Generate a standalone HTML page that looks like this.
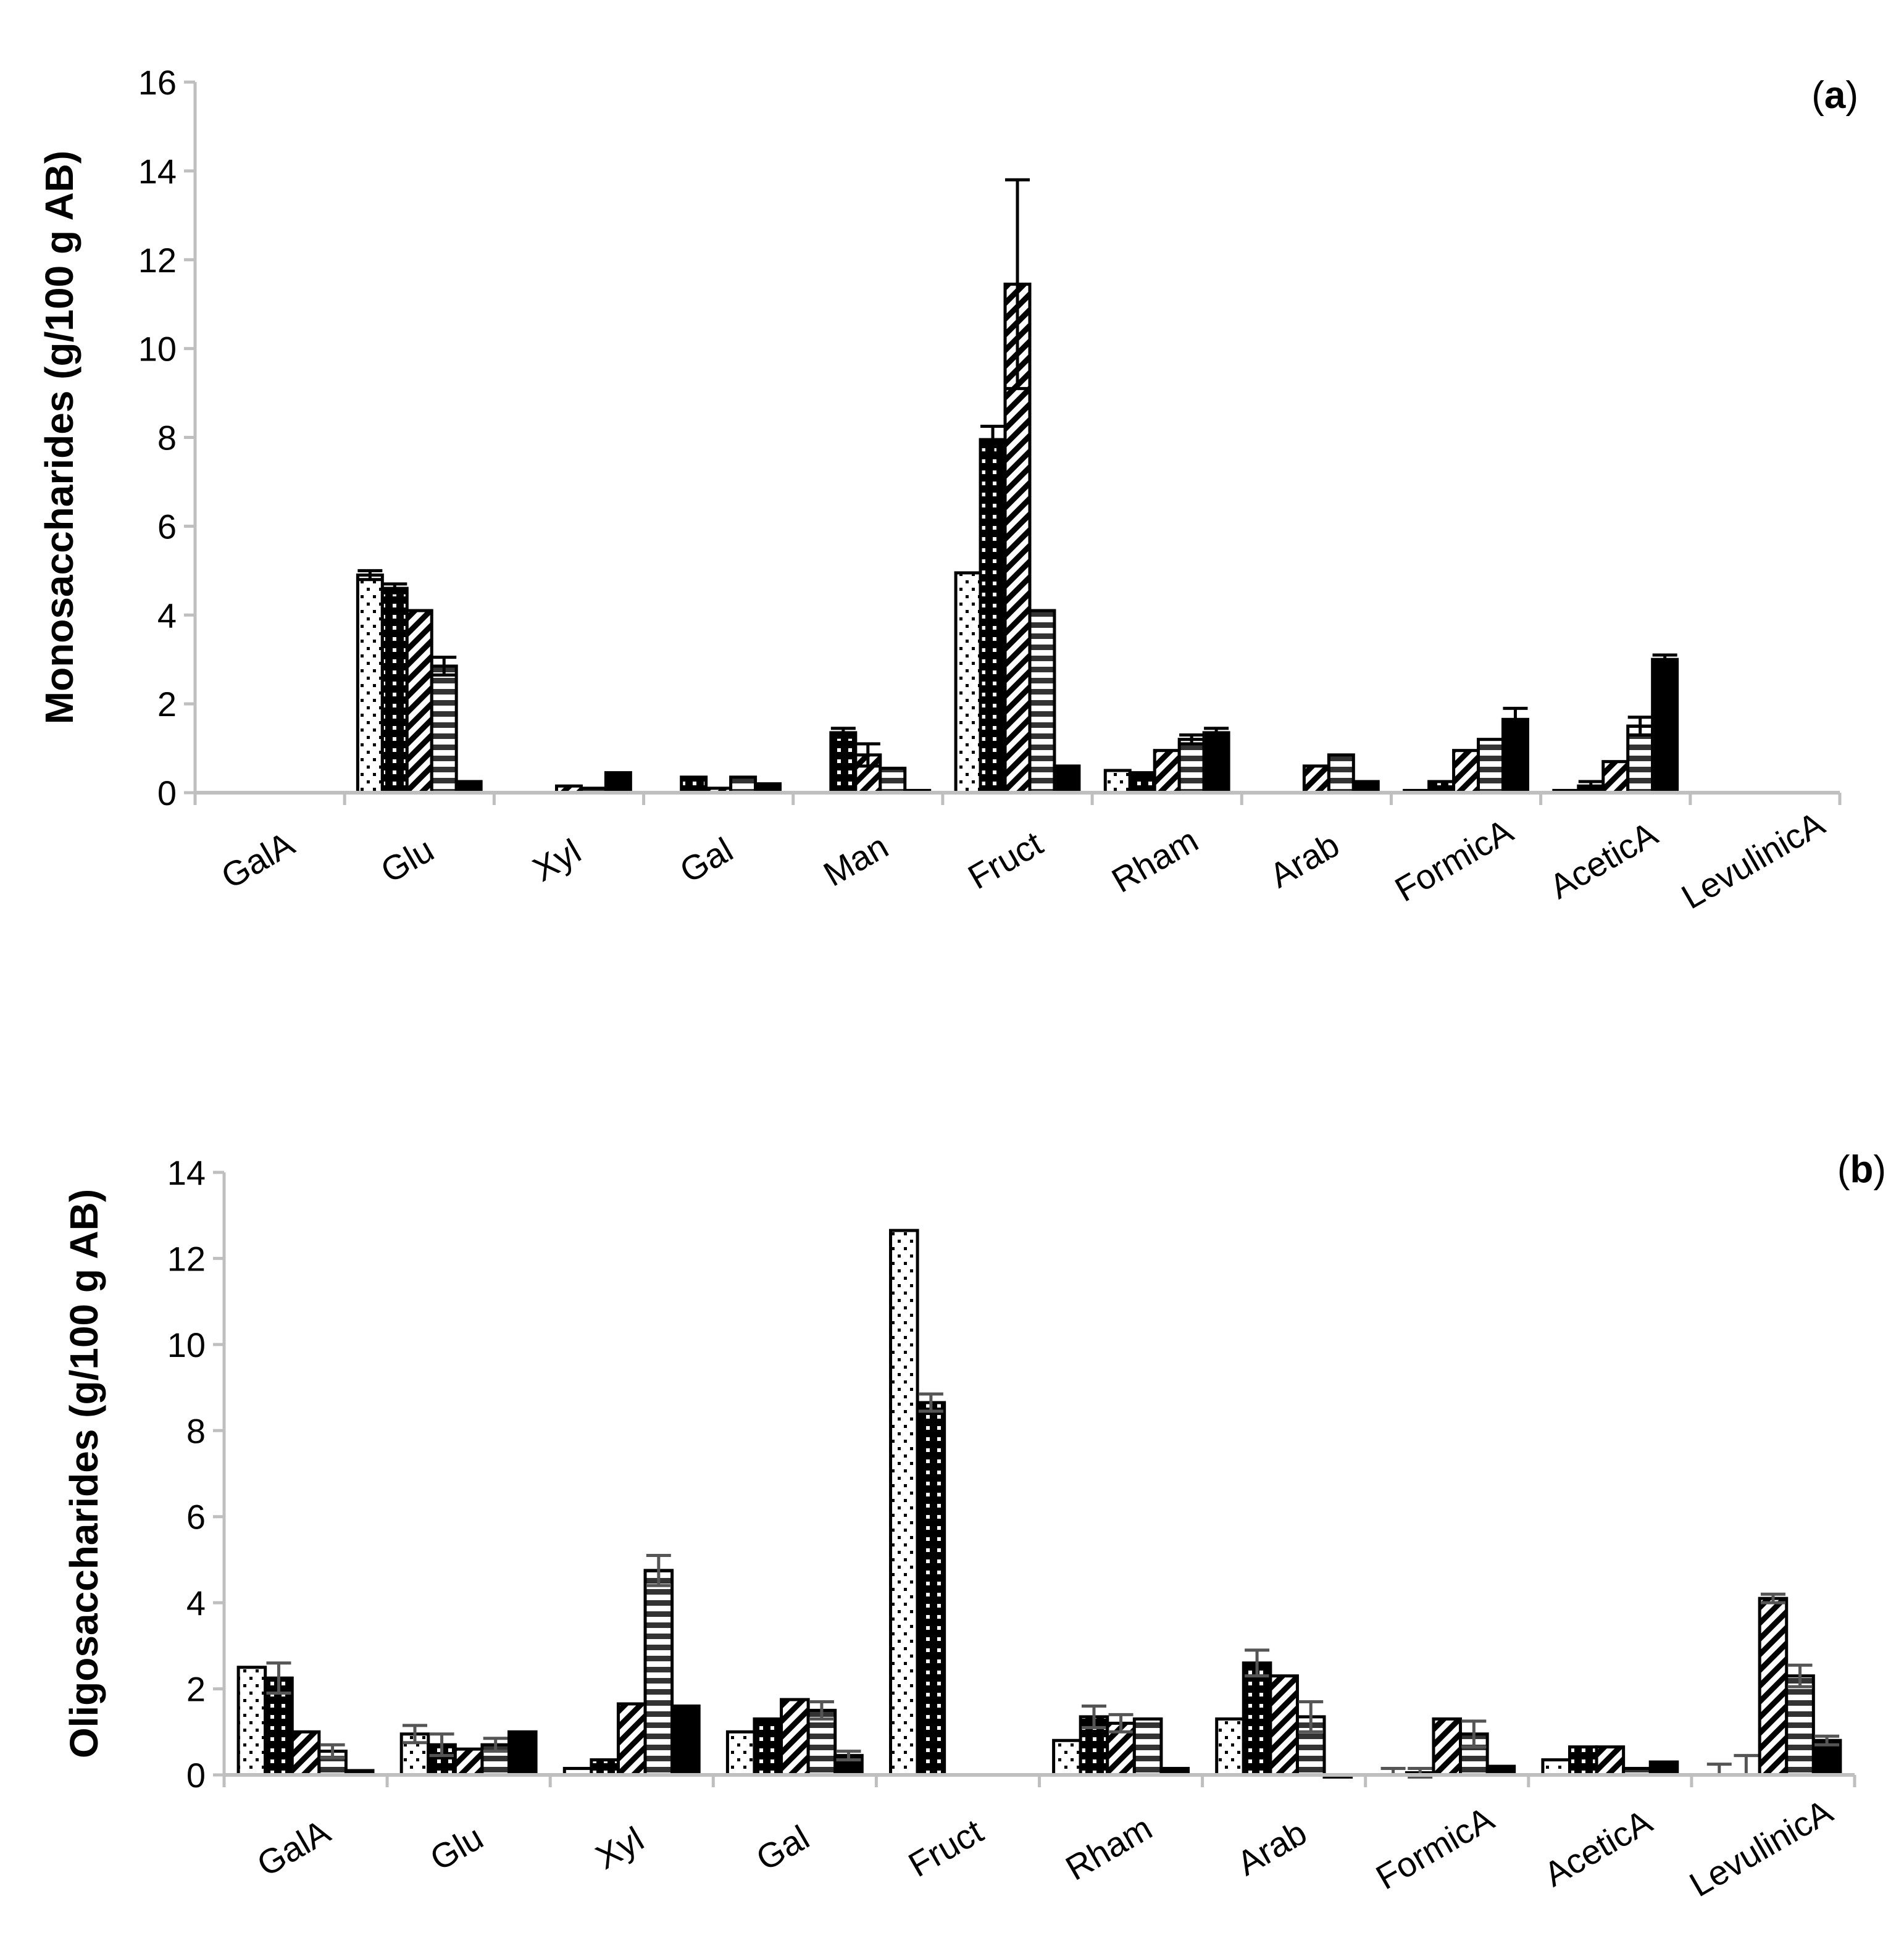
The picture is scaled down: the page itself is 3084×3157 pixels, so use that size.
<!DOCTYPE html>
<html><head><meta charset="utf-8"><style>
html,body{margin:0;padding:0;background:#fff}
svg{display:block}
text{font-family:"Liberation Sans","DejaVu Sans",sans-serif}
</style></head><body>
<svg id="chart" width="3084" height="3157" viewBox="0 0 3084 3157" xmlns="http://www.w3.org/2000/svg">
<defs>
<pattern id="p0" patternUnits="userSpaceOnUse" width="20" height="24"><rect width="20" height="24" fill="#fff"/><rect x="4" y="4" width="5" height="5" fill="#000"/><rect x="14" y="16" width="5" height="5" fill="#000"/></pattern>
<pattern id="p1" patternUnits="userSpaceOnUse" width="18" height="18"><rect width="18" height="18" fill="#000"/><rect x="6" y="6" width="6" height="6" fill="#fff"/></pattern>
<pattern id="p2" patternUnits="userSpaceOnUse" width="18" height="18" patternTransform="rotate(45)"><rect width="18" height="18" fill="#fff"/><rect width="9" height="18" fill="#000"/></pattern>
<pattern id="p3" patternUnits="userSpaceOnUse" width="10" height="18"><rect width="10" height="18" fill="#fff"/><rect width="10" height="9" fill="#333"/></pattern>
<pattern id="p4" patternUnits="userSpaceOnUse" width="10" height="10"><rect width="10" height="10" fill="#000"/></pattern>
</defs>
<g id="panelA"></g>
<g id="panelB"></g>
</svg>
<script>
const catsA = ["GalA","Glu","Xyl","Gal","Man","Fruct","Rham","Arab","FormicA","AceticA","LevulinicA"];
const a_s1 = [0,4.9,0,0,0,4.95,0.5,0,0.05,0.05,0];
const a_s2 = [0,4.6,0,0.35,1.35,7.95,0.45,0,0.25,0.15,0];
const a_s3 = [0,4.1,0.15,0.1,0.85,11.45,0.95,0.6,0.95,0.7,0];
const a_s4 = [0,2.85,0.1,0.35,0.55,4.1,1.2,0.85,1.2,1.5,0];
const a_s5 = [0,0.25,0.45,0.2,0.05,0.6,1.35,0.25,1.65,3.0,0];
const a_e1 = [0,0.1,0,0,0,0,0,0,0,0,0];
const a_e2 = [0,0.1,0,0,0.1,0.3,0,0,0,0.1,0];
const a_e3 = [0,0,0,0,0.25,2.35,0,0,0,0,0];
const a_e4 = [0,0.2,0,0,0,0,0.1,0,0,0.2,0];
const a_e5 = [0,0,0,0,0,0,0.1,0,0.25,0.1,0];
const ticksA = [0,2,4,6,8,10,12,14,16];

const catsB = ["GalA","Glu","Xyl","Gal","Fruct","Rham","Arab","FormicA","AceticA","LevulinicA"];
const b_s1 = [2.5,0.95,0.15,1.0,12.65,0.8,1.3,0,0.35,0];
const b_s2 = [2.25,0.7,0.35,1.3,8.65,1.35,2.6,0.05,0.65,0];
const b_s3 = [1.0,0.6,1.65,1.75,0,1.2,2.3,1.3,0.65,4.1];
const b_s4 = [0.55,0.7,4.75,1.5,0,1.3,1.35,0.95,0.15,2.3];
const b_s5 = [0.1,1.0,1.6,0.45,0,0.15,-0.05,0.2,0.3,0.8];
const b_e1 = [0,0.2,0,0,0,0,0,0.15,0,0.25];
const b_e2 = [0.35,0.25,0,0,0.2,0.25,0.3,0.1,0,0.45];
const b_e3 = [0,0,0,0,0,0.2,0,0,0,0.1];
const b_e4 = [0.15,0.15,0.35,0.2,0,0,0.35,0.3,0,0.25];
const b_e5 = [0,0,0,0.1,0,0,0,0,0,0.1];
const ticksB = [0,2,4,6,8,10,12,14];

const NS="http://www.w3.org/2000/svg";
function mk(parent,tag,attrs){const e=document.createElementNS(NS,tag);for(const k in attrs)e.setAttribute(k,attrs[k]);parent.appendChild(e);return e;}

function drawPanel(g,cfg){
  const {cats,series,errs,ticks,x0,x1,y0,yTop,vmax,title,titleX,tag,tagX,tagY,errColor,labelY} = cfg;
  const cw=(x1-x0)/cats.length;
  const ys=v=>y0-(v/vmax)*(y0-yTop);
  const xs=i=>x0+i*cw;
  const ya=mk(g,'line',{x1:x0,y1:yTop,x2:x0,y2:y0,stroke:'#bfbfbf','stroke-width':5});
  
  
  ticks.forEach(t=>{
    const tk=mk(g,'line',{x1:x0-18,y1:ys(t),x2:x0,y2:ys(t),stroke:'#bfbfbf','stroke-width':5});
    
    
    const tl=mk(g,'text',{x:x0-30,y:ys(t)+20,'text-anchor':'end','font-size':56,fill:'#000'});
    tl.textContent=t;
    
    
  });
  const bw=cw*0.165, off=(cw-5*bw)/2;
  cats.forEach((c,i)=>{
    series.forEach((s,j)=>{
      const v=s[i];
      const bx=xs(i)+off+j*bw;
      if(v!==0){
        const top=Math.min(ys(v),y0), h=Math.abs(ys(v)-y0);
        const r=mk(g,'rect',{x:bx,y:top,width:bw,height:Math.max(h,3),fill:'url(#p'+j+')',stroke:'#000','stroke-width':5});
        
        
      }
      const e=errs[j][i];
      if(e>0){
        const cx=bx+bw/2;
        const lo=v===0?v:v-e;
        let d=`M${cx},${ys(lo)}V${ys(v+e)}M${cx-20},${ys(v+e)}H${cx+20}`;
        if(v!==0) d+=`M${cx-20},${ys(lo)}H${cx+20}`;
        const eb=mk(g,'path',{d:d,stroke:errColor,'stroke-width':5,fill:'none'});
        
        
      }
    });
    const lbl=mk(g,'text',{x:0,y:0,'text-anchor':'middle','font-size':56,fill:'#000',transform:`translate(${xs(i)+cw/2-10},${labelY}) rotate(-30)`});
    lbl.textContent=c;
    
    
  });
  const xa=mk(g,'line',{x1:x0,y1:y0,x2:x1,y2:y0,stroke:'#bfbfbf','stroke-width':6});
  
  
  for(let i=0;i<=cats.length;i++){
    const tk=mk(g,'line',{x1:xs(i),y1:y0,x2:xs(i),y2:y0+20,stroke:'#bfbfbf','stroke-width':5});
    
    
  }
  const tt=mk(g,'text',{x:0,y:0,'text-anchor':'middle','font-size':64,'font-weight':'bold',fill:'#000',transform:`translate(${titleX},${(yTop+y0)/2}) rotate(-90)`});
  tt.textContent=title;
  
  
  const tg=mk(g,'text',{x:tagX,y:tagY,'text-anchor':'end','font-size':62,fill:'#000'});
  tg.innerHTML='(<tspan font-weight="bold">'+tag+'</tspan>)';
  
  
}

drawPanel(document.getElementById('panelA'),{
  cats:catsA,series:[a_s1,a_s2,a_s3,a_s4,a_s5],errs:[a_e1,a_e2,a_e3,a_e4,a_e5],
  ticks:ticksA,x0:316,x1:2980,y0:1284,yTop:133,vmax:16,
  title:"Monosaccharides (g/100 g AB)",titleX:118,tag:"a",tagX:3010,tagY:175,errColor:'#000',labelY:1410});
drawPanel(document.getElementById('panelB'),{
  cats:catsB,series:[b_s1,b_s2,b_s3,b_s4,b_s5],errs:[b_e1,b_e2,b_e3,b_e4,b_e5],
  ticks:ticksB,x0:363,x1:3004,y0:2875,yTop:1899,vmax:14,
  title:"Oligosaccharides (g/100 g AB)",titleX:158,tag:"b",tagX:3055,tagY:1915,errColor:'#555',labelY:3010});
</script>
</body></html>
